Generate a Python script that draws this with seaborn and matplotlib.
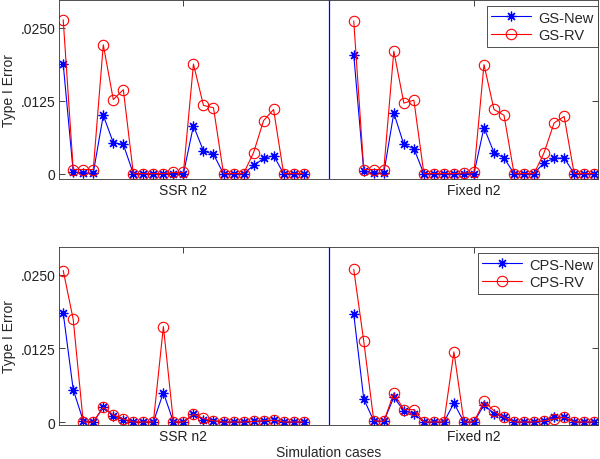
import matplotlib
matplotlib.use("Agg")
import matplotlib.pyplot as plt
import numpy as np
import seaborn as sns

# case positions: 25 SSR cases, gap, 25 fixed cases
ssr_x = list(range(1, 26))
fixed_x = list(range(30, 55))
group_labels = ["SSR n2", "Fixed n2"]

# top panel: GS
gs_new_ssr = [0.0188, 0.0003, 0.0001, 0.0001, 0.0100, 0.0053, 0.0050, 0, 0, 0, 0, 0, 0,
              0.0082, 0.0039, 0.0033, 0, 0, 0, 0.0014, 0.0026, 0.0031, 0, 0, 0]
gs_rv_ssr = [0.0264, 0.0007, 0.0007, 0.0007, 0.0221, 0.0127, 0.0144, 0, 0, 0, 0, 0.0002, 0.0002,
             0.0188, 0.0117, 0.0113, 0, 0, 0, 0.0036, 0.0091, 0.0110, 0, 0, 0]
gs_new_fixed = [0.0204, 0.0004, 0.0001, 0.0001, 0.0104, 0.0050, 0.0043, 0, 0, 0, 0, 0, 0,
                0.0079, 0.0036, 0.0027, 0, 0, 0, 0.0019, 0.0026, 0.0027, 0, 0, 0]
gs_rv_fixed = [0.0262, 0.0007, 0.0007, 0.0007, 0.0210, 0.0121, 0.0126, 0, 0, 0, 0, 0.0001, 0.0002,
               0.0187, 0.0110, 0.0100, 0, 0, 0, 0.0036, 0.0087, 0.0098, 0, 0, 0]

# bottom panel: CPS
cps_new_ssr = [0.0185, 0.0055, 0.0002, 0, 0.0025, 0.0010, 0.0004, 0, 0, 0, 0.0050, 0, 0,
               0.0013, 0.0004, 0.0002, 0, 0, 0, 0.0001, 0.0002, 0.0003, 0, 0, 0]
cps_rv_ssr = [0.0257, 0.0174, 0, 0, 0.0025, 0.0012, 0.0005, 0, 0, 0, 0.0162, 0, 0,
              0.0013, 0.0006, 0.0002, 0, 0, 0, 0.0001, 0.0002, 0.0003, 0, 0, 0]
cps_new_fixed = [0.0183, 0.0039, 0.0002, 0.0001, 0.0042, 0.0019, 0.0014, 0, 0, 0, 0.0032, 0, 0,
                 0.0029, 0.0014, 0.0008, 0, 0, 0, 0.0002, 0.0008, 0.0008, 0, 0, 0]
cps_rv_fixed = [0.0259, 0.0137, 0.0002, 0.0001, 0.0049, 0.0021, 0.0021, 0, 0, 0, 0.0119, 0, 0,
                0.0035, 0.0019, 0.0008, 0, 0, 0, 0.0002, 0.0005, 0.0008, 0, 0, 0]

ytick_vals = [0, 0.0125, 0.025]
ytick_labels = ["0", ".0125", ".0250"]

sns.set_theme(style="ticks")
plt.rcParams["font.family"] = ["Liberation Sans", "DejaVu Sans"]
plt.rcParams["xtick.direction"] = "in"
plt.rcParams["ytick.direction"] = "in"

fig = plt.figure(figsize=(6, 4.6), dpi=100)
ax_top = fig.add_axes([0.099, 0.609, 0.898, 0.389])
ax_bot = fig.add_axes([0.099, 0.074, 0.898, 0.387])

asterisk = (8, 2, 0)


def draw_panel(ax, new_ssr, rv_ssr, new_fixed, rv_fixed, names, ylim, legend_y):
    for i, (xs, new, rv) in enumerate([(ssr_x, new_ssr, rv_ssr), (fixed_x, new_fixed, rv_fixed)]):
        sns.lineplot(x=xs, y=new, ax=ax, color="#0000ff", linewidth=0.8, marker=asterisk,
                     markersize=7, markeredgecolor="#0000ff", markeredgewidth=0.9,
                     label=names[0] if i == 0 else None)
        sns.lineplot(x=xs, y=rv, ax=ax, color="#ff0000", linewidth=0.8, marker="o",
                     markersize=7.5, markerfacecolor="none", markeredgecolor="#ff0000",
                     markeredgewidth=0.8, label=names[1] if i == 0 else None)
    ax.axvline(27.5, color="#0000ff", linewidth=0.9)
    ax.set_xlim(0.62, 54.4)
    ax.set_ylim(*ylim)
    ax.set_xticks([13, 42])
    ax.set_xticklabels(group_labels)
    ax.set_yticks(ytick_vals)
    ax.set_yticklabels(ytick_labels)
    ax.tick_params(axis="both", labelsize=10, length=4, width=0.6, colors="#222222",
                   top=True, right=True, pad=3)
    for s in ax.spines.values():
        s.set_visible(True)
        s.set_color("#333333")
        s.set_linewidth(0.6)
    ax.set_ylabel("Type I Error", fontsize=10, labelpad=3)
    leg = ax.legend(loc="upper right", bbox_to_anchor=(0.999, legend_y), borderaxespad=0,
                    fontsize=10.5, handlelength=2.7, handletextpad=0.5, borderpad=0.3,
                    labelspacing=0.25, fancybox=False, framealpha=1)
    leg.get_frame().set_edgecolor("#333333")
    leg.get_frame().set_linewidth(0.6)


draw_panel(ax_top, gs_new_ssr, gs_rv_ssr, gs_new_fixed, gs_rv_fixed,
           ["GS-New", "GS-RV"], (-0.0009, 0.0298), 0.965)
draw_panel(ax_bot, cps_new_ssr, cps_rv_ssr, cps_new_fixed, cps_rv_fixed,
           ["CPS-New", "CPS-RV"], (-0.0005, 0.0297), 0.965)
ax_bot.set_xlabel("Simulation cases", fontsize=10, labelpad=1)

fig.savefig("out.png", dpi=100)
